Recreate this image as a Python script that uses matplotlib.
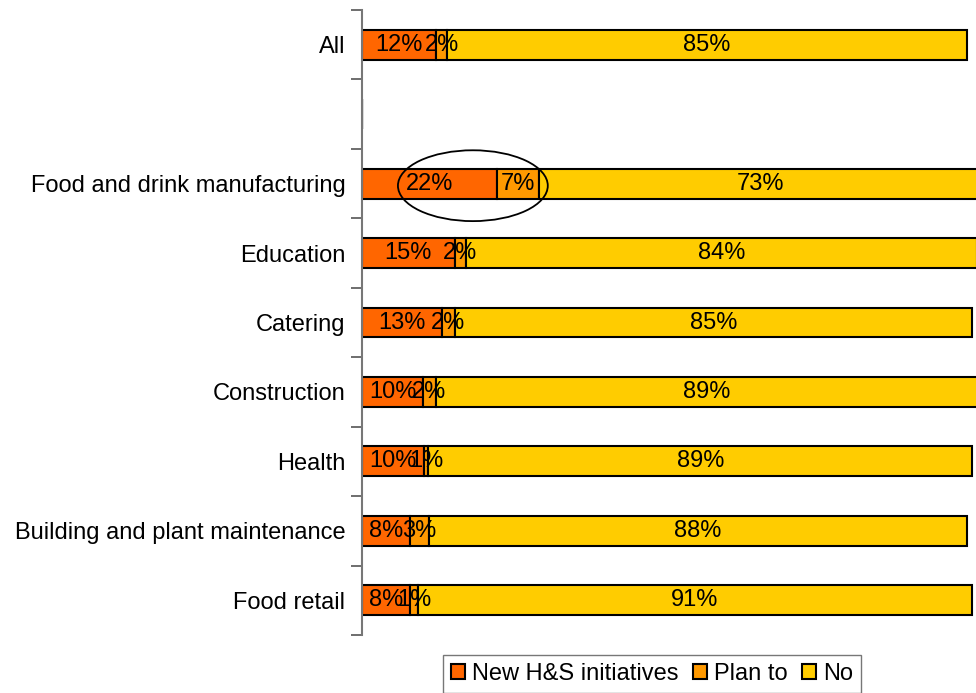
import matplotlib.pyplot as plt
from matplotlib.patches import Ellipse

plt.rcParams['font.family'] = ['Liberation Sans', 'DejaVu Sans']

# Datos
categorias = ["All", "", "Food and drink manufacturing", "Education", "Catering",
              "Construction", "Health", "Building and plant maintenance", "Food retail"]
nuevas = [12.2, 0, 22.1, 15.2, 13.1, 10.0, 10.1, 7.9, 7.9]
plan = [1.8, 0, 6.9, 1.8, 2.1, 2.1, 0.8, 3.1, 1.3]
no = [85.3, 0, 73.0, 84.0, 85.0, 89.0, 89.3, 88.3, 90.9]
etiquetas_nuevas = ["12%", "", "22%", "15%", "13%", "10%", "10%", "8%", "8%"]
etiquetas_plan = ["2%", "", "7%", "2%", "2%", "2%", "1%", "3%", "1%"]
etiquetas_no = ["85%", "", "73%", "84%", "85%", "89%", "89%", "88%", "91%"]
series = ["New H&S initiatives", "Plan to", "No"]
colores = ["#FF6600", "#FF9900", "#FFCC00"]

fig = plt.figure(figsize=(9.76, 6.93), dpi=100)
ax = fig.add_axes([362 / 976, 1 - 635 / 693, 614 / 976, 625 / 693])

y = list(range(len(categorias)))
izq = [0] * len(categorias)
for valores, etiquetas, color, nombre in zip([nuevas, plan, no],
                                             [etiquetas_nuevas, etiquetas_plan, etiquetas_no],
                                             colores, series):
    barras = ax.barh(y, valores, left=izq, height=0.43, color=color,
                     edgecolor="black", linewidth=1.5, label=nombre)
    for i, (v, e) in enumerate(zip(valores, etiquetas)):
        if v > 0:
            ax.text(izq[i] + v / 2, i, e, ha="center", va="center", fontsize=17)
    izq = [a + b for a, b in zip(izq, valores)]

# Ellipse marcando food and drink
ax.add_patch(Ellipse((18.2, 2.03), 24.6, 1.02, fill=False, edgecolor="black",
                     linewidth=1.3, clip_on=False))

ax.set_xlim(0, 100.8)
ax.set_ylim(len(categorias) - 0.5, -0.5)
ax.set_yticks(y)
ax.set_yticklabels(categorias, fontsize=17)
ax.tick_params(axis="y", which="major", length=0, pad=12)
ax.set_yticks([i - 0.5 for i in range(len(categorias) + 1)], minor=True)
ax.tick_params(axis="y", which="minor", length=8, width=1.2, color="#555555")
ax.set_xticks([])
for lado in ["top", "right", "bottom"]:
    ax.spines[lado].set_visible(False)
ax.spines["left"].set_color("#777777")
ax.spines["left"].set_linewidth(1.5)

fig.legend(loc="upper center", bbox_to_anchor=(652 / 976, 1 - 643 / 693), ncol=3,
           fontsize=17, frameon=True, fancybox=False, edgecolor="#555555",
           handlelength=0.6, handleheight=0.6, handletextpad=0.3, columnspacing=0.6,
           borderpad=0.35)

fig.savefig("out.png", dpi=100)
